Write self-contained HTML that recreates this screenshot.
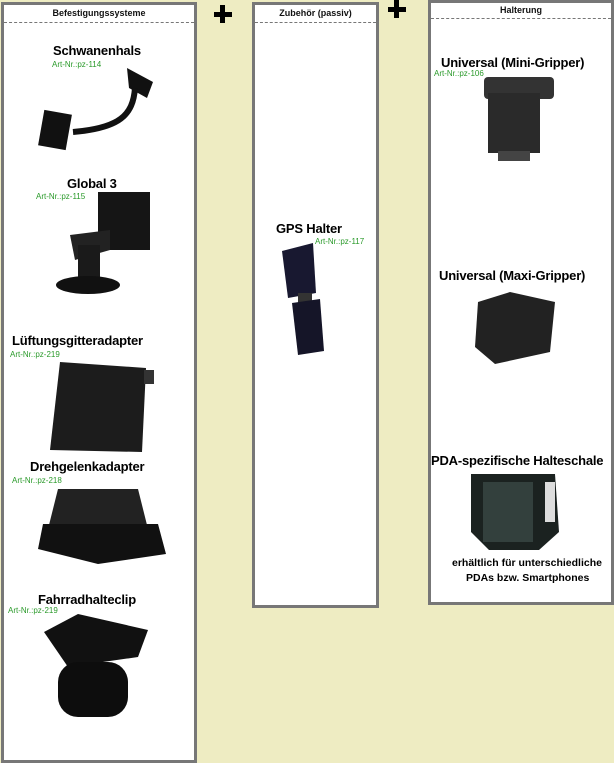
<!DOCTYPE html>
<html><head><meta charset="utf-8"><style>
body{margin:0;width:614px;height:763px;background:#eeecc2;position:relative;overflow:hidden;font-family:"Liberation Sans",sans-serif}
.box{position:absolute;background:#fff;border:3px solid #777;box-sizing:border-box}
.hd{position:absolute;left:0;right:0;top:0;height:17px;border-bottom:1px dashed #777;font-size:9px;font-weight:bold;text-align:center;line-height:17px;color:#111}
.t{position:absolute;font-size:13px;font-weight:bold;color:#000;white-space:nowrap;letter-spacing:-0.2px}
.a{position:absolute;font-size:8px;color:#2a9a2a;white-space:nowrap}
.ph{position:absolute;width:18px;height:5px;background:#000}
.pv{position:absolute;width:5px;height:18px;background:#000}
.s{position:absolute;font-size:10.5px;font-weight:bold;white-space:nowrap}
svg{position:absolute}
</style></head><body>
<div class="box" style="left:1px;top:2px;width:196px;height:761px"><div class="hd">Befestigungssysteme</div></div>
<div class="box" style="left:252px;top:2px;width:127px;height:606px"><div class="hd">Zubehör (passiv)</div></div>
<div class="box" style="left:428px;top:0px;width:186px;height:605px"><div class="hd" style="height:15px;line-height:15px">Halterung</div></div>
<div class="ph" style="left:214px;top:12px"></div><div class="pv" style="left:220px;top:5px"></div>
<div class="ph" style="left:388px;top:7px"></div><div class="pv" style="left:394px;top:0px"></div>

<div class="t" style="left:53px;top:43px">Schwanenhals</div>
<div class="a" style="left:52px;top:60px">Art-Nr.:pz-114</div>
<svg style="left:35px;top:60px" width="125" height="95"><path d="M92 8 L118 22 L112 38 L94 28 Z" fill="#111"/><path d="M100 28 C98 55 85 68 38 72" stroke="#111" stroke-width="6" fill="none"/><rect x="6" y="52" width="28" height="36" fill="#111" transform="rotate(10 20 70)"/></svg>

<div class="t" style="left:67px;top:176px">Global 3</div>
<div class="a" style="left:36px;top:192px">Art-Nr.:pz-115</div>
<svg style="left:50px;top:190px" width="110" height="110"><rect x="48" y="2" width="52" height="58" fill="#151515"/><path d="M20 45 L60 40 L60 60 L25 70Z" fill="#222"/><rect x="28" y="55" width="22" height="40" fill="#1a1a1a"/><ellipse cx="38" cy="95" rx="32" ry="9" fill="#111"/></svg>

<div class="t" style="left:12px;top:333px">Lüftungsgitteradapter</div>
<div class="a" style="left:10px;top:350px">Art-Nr.:pz-219</div>
<svg style="left:46px;top:358px" width="112" height="100"><path d="M14 4 L100 10 L96 94 L4 92 Z" fill="#1c1c1c"/><rect x="98" y="12" width="10" height="14" fill="#333"/></svg>

<div class="t" style="left:30px;top:459px">Drehgelenkadapter</div>
<div class="a" style="left:12px;top:476px">Art-Nr.:pz-218</div>
<svg style="left:38px;top:484px" width="130" height="85"><path d="M20 5 L100 5 L110 45 L10 45Z" fill="#222"/><path d="M5 40 L120 40 L128 70 L60 80 L0 65Z" fill="#111"/></svg>

<div class="t" style="left:38px;top:592px">Fahrradhalteclip</div>
<div class="a" style="left:8px;top:606px">Art-Nr.:pz-219</div>
<svg style="left:38px;top:612px" width="115" height="120"><path d="M6 20 L40 2 L110 18 L100 45 L30 55Z" fill="#111"/><rect x="20" y="50" width="70" height="55" rx="20" fill="#0d0d0d"/></svg>

<div class="t" style="left:276px;top:221px">GPS Halter</div>
<div class="a" style="left:315px;top:237px">Art-Nr.:pz-117</div>
<svg style="left:278px;top:243px" width="56" height="115"><path d="M4 8 L35 0 L38 50 L10 55Z" fill="#181830"/><rect x="20" y="50" width="14" height="14" fill="#333"/><path d="M14 60 L42 56 L46 108 L20 112Z" fill="#151528"/></svg>

<div class="t" style="left:441px;top:55px">Universal (Mini-Gripper)</div>
<div class="a" style="left:434px;top:69px">Art-Nr.:pz-106</div>
<svg style="left:476px;top:75px" width="82" height="88"><rect x="8" y="2" width="70" height="22" rx="4" fill="#333"/><rect x="12" y="18" width="52" height="60" fill="#2a2a2a"/><rect x="22" y="76" width="32" height="10" fill="#444"/></svg>

<div class="t" style="left:439px;top:268px">Universal (Maxi-Gripper)</div>
<svg style="left:470px;top:292px" width="92" height="80"><path d="M8 10 L40 0 L85 10 L80 60 L25 72 L5 55Z" fill="#222"/></svg>

<div class="t" style="left:431px;top:453px">PDA-spezifische Halteschale</div>
<svg style="left:467px;top:472px" width="96" height="82"><path d="M4 2 L88 2 L92 60 L72 78 L22 78 L4 60Z" fill="#1b2220"/><rect x="16" y="10" width="50" height="60" fill="#33403d"/><rect x="78" y="10" width="10" height="40" fill="#ddd"/></svg>
<div class="s" style="left:452px;top:557px">erhältlich für unterschiedliche</div>
<div class="s" style="left:466px;top:572px">PDAs bzw. Smartphones</div>
</body></html>
